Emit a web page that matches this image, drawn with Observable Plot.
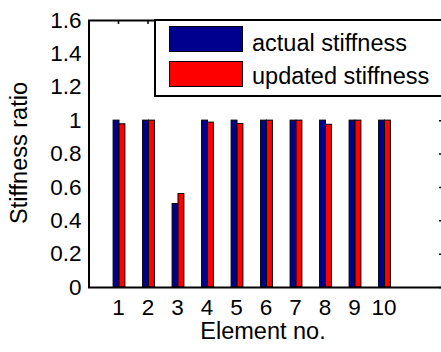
<!DOCTYPE html>
<html><head><meta charset="utf-8">
<script src="https://cdn.jsdelivr.net/npm/d3@7"></script>
<script src="https://cdn.jsdelivr.net/npm/@observablehq/plot@0.6"></script>
<style>
body{margin:0;background:#fff;}
#wrap{position:relative;width:441px;height:352px;overflow:hidden;font-family:"Liberation Sans",Arial,sans-serif;background:#fff;}
#wrap svg{display:block}
#legend{position:absolute;left:0;top:0;}
</style></head><body><div id="wrap"></div>
<script>
const elements = [1, 2, 3, 4, 5, 6, 7, 8, 9, 10];
const actualStiffness = [1, 1, 0.5, 1, 1, 1, 1, 1, 1, 1];
const updatedStiffness = [0.978, 1, 0.56, 0.988, 0.98, 1, 1, 0.975, 1, 1];
const seriesNames = ["actual stiffness", "updated stiffness"];
const seriesColors = ["#00008f", "#ff0000"];
const xTicks = [1, 2, 3, 4, 5, 6, 7, 8, 9, 10];
const yTicks = [0, 0.2, 0.4, 0.6, 0.8, 1, 1.2, 1.4, 1.6];
const xLabel = "Element no.";
const yLabel = "Stiffness ratio";

const font = '"Liberation Sans", Arial, sans-serif';
const barW = 0.2;
const rows = elements.flatMap((e, i) => [
  {element: e, series: seriesNames[0], value: actualStiffness[i], k: 0},
  {element: e, series: seriesNames[1], value: updatedStiffness[i], k: 1}
]);

const chart = Plot.plot({
  width: 441, height: 352,
  marginLeft: 88, marginRight: 0, marginTop: 20, marginBottom: 65,
  style: {fontFamily: font, fontSize: "22.5px", color: "black", background: "white", overflow: "visible"},
  x: {domain: [0, 12], range: [89.5, 443.5]},
  y: {domain: [0, 1.6]},
  color: {domain: seriesNames, range: seriesColors},
  marks: [
    Plot.rect(rows, {x1: d => d.element + (d.k - 1) * barW, x2: d => d.element + d.k * barW, y1: 0, y2: "value", fill: "series", stroke: "black", strokeWidth: 1}),
    Plot.ruleY([0, 1.6], {stroke: "black", strokeWidth: 2}),
    Plot.ruleX([0], {stroke: "black", strokeWidth: 2, dx: -1}),
    Plot.axisX(xTicks, {anchor: "bottom", tickSize: 0, tickPadding: 12, fontSize: 22.5, label: null, dx: -1}),
    Plot.axisX(xTicks, {anchor: "top", tickSize: -3, text: null, label: null, strokeWidth: 1.5, dx: -1}),
    Plot.axisY(yTicks, {anchor: "left", tickSize: 0, tickPadding: 7, tickFormat: d3.format("~g"), fontSize: 22.5, label: null}),
    Plot.axisY(yTicks, {anchor: "right", tickSize: -3, text: null, label: null, strokeWidth: 1.5}),
    Plot.text([xLabel], {text: d => d, frameAnchor: "bottom", textAnchor: "middle", lineAnchor: "middle", dy: 44, dx: -2, fontSize: 23.5, fill: "black"}),
    Plot.text([yLabel], {text: d => d, frameAnchor: "left", textAnchor: "middle", lineAnchor: "middle", rotate: -90, dx: -69, dy: -1, fontSize: 23.5, fill: "black"})
  ]
});
const wrap = document.getElementById("wrap");
wrap.appendChild(chart);

// legend overlay (inside the axes, top right, as in the reference)
const lg = d3.select(wrap).append("svg").attr("id", "legend").attr("width", 441).attr("height", 352);
lg.append("rect").attr("x", 155).attr("y", 20).attr("width", 300).attr("height", 76)
  .attr("fill", "white").attr("stroke", "black").attr("stroke-width", 2);
seriesNames.forEach((name, i) => {
  lg.append("rect").attr("x", 169.5).attr("y", 26.5 + i * 35).attr("width", 73).attr("height", 25)
    .attr("fill", seriesColors[i]).attr("stroke", "black").attr("stroke-width", 1);
  lg.append("text").attr("x", 252).attr("y", 51 + i * 32.5).text(name)
    .attr("font-family", font).attr("font-size", 23.5).attr("fill", "black");
});
</script></body></html>
